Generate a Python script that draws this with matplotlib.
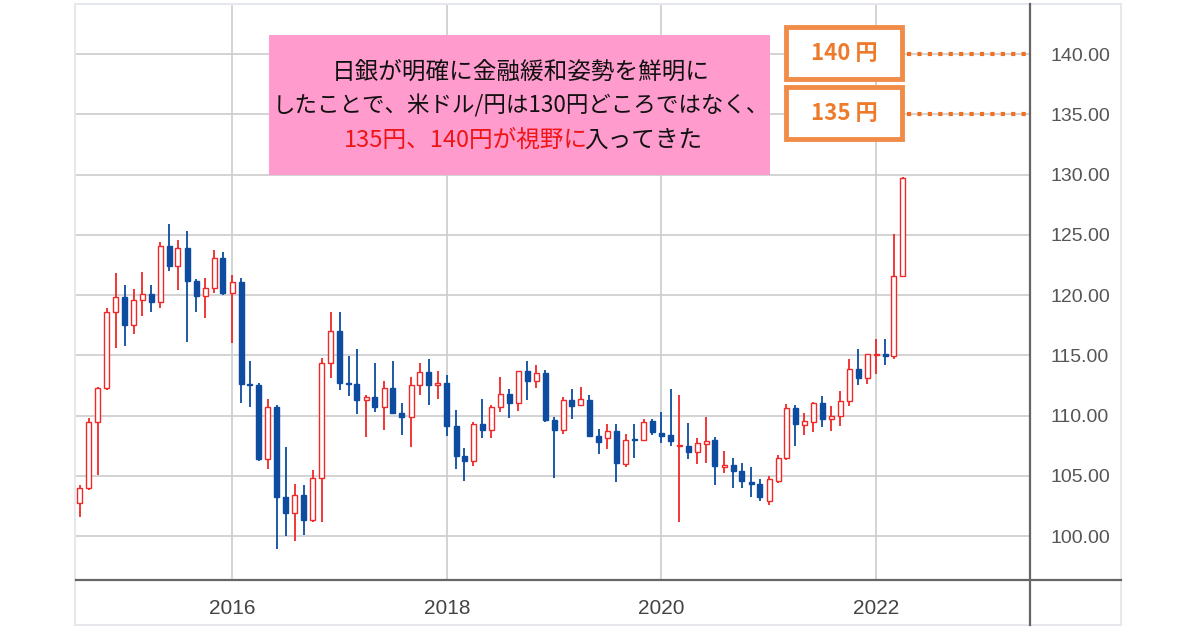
import matplotlib
matplotlib.use('Agg')
import matplotlib.pyplot as plt
import matplotlib.dates as mdates
from matplotlib.patches import Rectangle
from matplotlib.lines import Line2D
import pandas as pd

plt.rcParams['font.family'] = ['Noto Sans CJK JP', 'DejaVu Sans']

# USD/JPY monthly candles, Aug 2014 - Apr 2022
months = pd.date_range('2014-08-01', '2022-04-01', freq='MS')

opens = [
    102.7, 104.0, 109.5, 112.3, 118.6,                                               # 2014
    119.8, 117.5, 119.6, 120.1, 119.4, 124.1, 122.4, 123.9, 121.2, 119.9, 120.6, 123.1,  # 2015
    120.2, 121.1, 112.6, 112.5, 106.4, 110.7, 103.2, 101.9, 103.4, 101.3, 104.8, 114.4,  # 2016
    117.0, 112.7, 112.6, 111.3, 111.5, 110.7, 112.3, 110.2, 109.9, 112.5, 113.6, 112.5,  # 2017
    112.7, 109.1, 106.6, 106.2, 109.3, 108.8, 110.7, 111.8, 111.0, 113.7, 112.9, 113.5,  # 2018
    109.6, 108.8, 111.3, 110.9, 111.3, 108.3, 108.1, 108.7, 106.0, 108.05, 108.0, 109.55,  # 2019
    108.55, 108.4, 107.45, 107.5, 107.0, 107.6, 108.0, 105.7, 105.9, 105.4, 104.5, 104.3,  # 2020
    102.9, 104.6, 106.5, 110.65, 109.25, 109.5, 111.05, 109.7, 109.95, 111.2, 113.9, 113.1,  # 2021
    115.0, 115.1, 114.9, 121.6,                                                       # 2022
]
highs = [
    104.2, 109.8, 112.4, 118.9, 121.85,
    120.8, 120.5, 121.9, 120.8, 124.4, 125.9, 124.6, 125.3, 121.3, 121.4, 123.7, 123.6,
    121.7, 121.4, 114.5, 112.7, 111.4, 110.9, 107.4, 104.3, 104.2, 105.5, 114.8, 118.6,
    118.6, 114.9, 115.5, 111.7, 114.4, 112.9, 114.5, 111.0, 113.2, 114.4, 114.7, 113.7,
    113.4, 110.5, 107.3, 109.5, 111.4, 110.9, 113.2, 112.2, 113.7, 114.5, 114.2, 113.8,
    109.9, 111.5, 112.2, 112.4, 111.7, 108.9, 109.3, 109.3, 108.5, 109.3, 109.7, 109.7,
    110.3, 112.2, 111.7, 109.4, 108.1, 109.85, 108.2, 107.05, 106.5, 106.1, 105.7, 104.7,
    104.95, 106.7, 110.95, 110.9, 110.2, 111.1, 111.6, 110.8, 112.05, 114.7, 115.5, 115.1,
    116.35, 116.35, 125.1, 129.8,
]
lows = [
    101.6, 103.8, 105.1, 112.1, 115.6,
    115.8, 116.8, 118.3, 118.6, 118.9, 122.0, 120.4, 116.1, 118.6, 118.1, 120.2, 120.0,
    116.0, 111.0, 110.7, 106.2, 105.6, 98.9, 100.0, 99.6, 100.1, 101.2, 101.2, 113.1,
    112.1, 111.6, 110.1, 108.2, 110.3, 108.8, 110.1, 108.4, 107.4, 111.7, 110.9, 111.4,
    108.3, 105.6, 104.6, 105.8, 108.1, 108.1, 110.3, 109.8, 110.4, 111.3, 112.3, 109.5,
    104.8, 108.5, 109.7, 110.8, 108.2, 106.8, 107.2, 104.5, 105.7, 106.5, 107.9, 108.4,
    107.7, 107.5, 101.2, 106.4, 106.0, 106.1, 104.2, 105.2, 104.0, 104.0, 103.2, 102.9,
    102.6, 104.4, 106.3, 107.5, 108.4, 108.6, 109.05, 108.7, 109.1, 110.8, 112.5, 112.6,
    113.45, 114.2, 114.65, 121.5,
]
closes = [
    104.0, 109.5, 112.3, 118.6, 119.8,
    117.5, 119.6, 120.1, 119.4, 124.1, 122.4, 123.9, 121.2, 119.9, 120.6, 123.1, 120.2,
    121.1, 112.6, 112.5, 106.4, 110.7, 103.2, 101.9, 103.4, 101.3, 104.8, 114.4, 117.0,
    112.7, 112.6, 111.3, 111.5, 110.7, 112.3, 110.2, 109.9, 112.5, 113.6, 112.5, 112.7,
    109.1, 106.6, 106.2, 109.3, 108.8, 110.7, 111.8, 111.0, 113.7, 112.9, 113.5, 109.6,
    108.8, 111.3, 110.8, 111.35, 108.3, 107.8, 108.7, 106.1, 108.0, 107.95, 109.5, 108.6,
    108.3, 107.85, 107.55, 107.0, 107.7, 107.9, 105.8, 105.9, 105.4, 104.6, 104.3, 103.2,
    104.7, 106.5, 110.65, 109.3, 109.55, 111.05, 109.7, 110.0, 111.2, 113.9, 113.1, 115.1,
    115.1, 114.95, 121.6, 129.7,
]

yticks = [100, 105, 110, 115, 120, 125, 130, 135, 140]
year_ticks = ['2016-01-01', '2018-01-01', '2020-01-01', '2022-01-01']
year_labels = ['2016', '2018', '2020', '2022']

note_lines = ['日銀が明確に金融緩和姿勢を鮮明に',
              'したことで、米ドル/円は130円どころではなく、']
note_red = '135円、140円が視野に'
note_black = '入ってきた'
targets = [140, 135]

RED = '#F02828'
BLUE = '#0D4C9E'
ORANGE = '#EE7A2C'

W, H = 1200, 630
fig = plt.figure(figsize=(12, 6.3), dpi=100)
fig.patch.set_facecolor('white')


def fx(px):
    return px / W


def fy(py):
    return 1 - py / H


ax = fig.add_axes([fx(76), fy(580), fx(1030) - fx(76), fy(5) - fy(580)])
ax.set_facecolor('white')

x = mdates.date2num(months)
for xi, o, h, l, c in zip(x, opens, highs, lows, closes):
    col = RED if c >= o else BLUE
    ax.vlines(xi, l, h, color=col, lw=1.3, zorder=2)
    body = max(abs(c - o), 0.12)
    if c >= o:
        ax.bar(xi, body, bottom=min(o, c), width=17, facecolor='white',
               edgecolor=col, lw=1.0, zorder=3)
    else:
        ax.bar(xi, body, bottom=min(o, c), width=17, facecolor=col,
               edgecolor=col, lw=1.0, zorder=3)

ax.set_ylim(96.35, 144.07)
ax.set_xlim(mdates.date2num(pd.Timestamp('2014-07-19')),
            mdates.date2num(pd.Timestamp('2023-06-08')))

ax.set_yticks(yticks)
ax.set_yticklabels(['%.2f' % v for v in yticks])
ax.yaxis.tick_right()
ax.set_xticks(mdates.date2num(pd.to_datetime(year_ticks)))
ax.set_xticklabels(year_labels)
ax.tick_params(length=0, colors='#555555', labelsize=14)
ax.tick_params(axis='y', pad=15)
ax.tick_params(axis='x', pad=14, labelcolor='#444444')
for lab in ax.get_xticklabels() + ax.get_yticklabels():
    lab.set_family(['Liberation Sans Narrow', 'Liberation Sans', 'DejaVu Sans'])
for lab in ax.get_xticklabels():
    lab.set_fontsize(15)
ax.grid(True, color='#CCCCCC', lw=1.2)
ax.set_axisbelow(True)
for s in ax.spines.values():
    s.set_visible(False)

# outer frame and dark axis lines
fig.add_artist(Rectangle((fx(75), fy(625)), fx(1121) - fx(75), fy(4) - fy(625),
                         transform=fig.transFigure, fill=False,
                         edgecolor='#E6E8EE', lw=1.5))
fig.add_artist(Line2D([fx(76), fx(1121)], [fy(580), fy(580)],
                      transform=fig.transFigure, color='#666666', lw=1.6))
fig.add_artist(Line2D([fx(1030), fx(1030)], [fy(4), fy(625)],
                      transform=fig.transFigure, color='#666666', lw=1.6))

# pink note box
fig.add_artist(Rectangle((fx(269), fy(175)), fx(770) - fx(269), fy(35) - fy(175),
                         transform=fig.transFigure, facecolor='#FF9BCD',
                         edgecolor='none', zorder=5))
fig.text(fx(521), fy(72), note_lines[0], ha='center', va='center',
         fontsize=17, color='#111111', zorder=6)
fig.text(fx(521), fy(106), note_lines[1], ha='center', va='center',
         fontsize=16.2, color='#111111', zorder=6)

renderer = fig.canvas.get_renderer()
t_red = fig.text(0, fy(140), note_red, ha='left', va='center', fontsize=17,
                 color='#F01414', zorder=6)
t_blk = fig.text(0, fy(140), note_black, ha='left', va='center', fontsize=17,
                 color='#111111', zorder=6)
w1 = t_red.get_window_extent(renderer).width - 4
w2 = t_blk.get_window_extent(renderer).width
x0 = 523 - (w1 + w2) / 2
t_red.set_x(fx(x0))
t_blk.set_x(fx(x0 + w1))

# target price boxes with dotted guide lines
for val, top in zip(targets, [27, 87]):
    fig.add_artist(Rectangle((fx(786), fy(top + 52)), fx(116), fy(0) - fy(52),
                             transform=fig.transFigure, facecolor='white',
                             edgecolor='#F08C48', lw=3.5, zorder=5))
    fig.text(fx(844), fy(top + 27), '%d 円' % val, ha='center', va='center',
             fontsize=16, color=ORANGE, fontweight='bold', zorder=6)
    ax.plot([mdates.date2num(pd.Timestamp('2022-04-15')), ax.get_xlim()[1]],
            [val, val], color='#F07020', lw=3, ls=(0, (1, 1.5)),
            zorder=4, clip_on=False)

fig.savefig('out.png', dpi=100, facecolor='white')
